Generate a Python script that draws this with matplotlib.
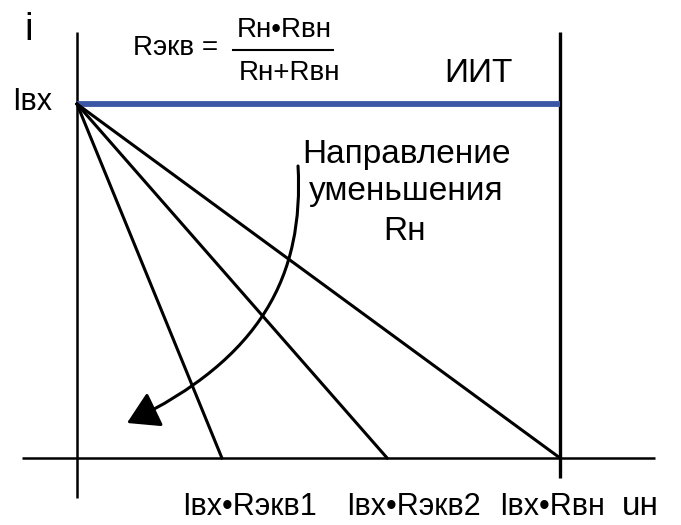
import matplotlib
matplotlib.use("Agg")
import matplotlib.pyplot as plt
from matplotlib.patches import FancyArrowPatch, ArrowStyle
from matplotlib.path import Path

plt.rcParams['font.family'] = ['Liberation Sans', 'DejaVu Sans']

# source current and internal resistance (normalised units)
i_in = 1.0
r_int = 1.0
# equivalent resistances of the two smaller loads
r_eq = [0.30, 0.642]

load_ends = [i_in * r for r in r_eq] + [i_in * r_int]
bottom_labels = ['Iвх•Rэкв1', 'Iвх•Rэкв2', 'Iвх•Rвн']

# "decreasing Rн" arrow: cubic bezier control points
arrow_pts = [(0.4576, 0.8249), (0.4700, 0.5169), (0.3830, 0.2825), (0.1035, 0.0989)]

fig = plt.figure(figsize=(6.81, 5.25), dpi=100)
ax = fig.add_axes([0, 0, 1, 1])
ax.set_xlim(-0.1594, 1.2505)
ax.set_ylim(-0.1893, 1.2938)
ax.axis('off')

# axes
ax.plot([0, 0], [-0.113, 1.2034], color='black', lw=1.8, solid_capstyle='butt')
ax.plot([-0.1139, 1.1967], [0, 0], color='black', lw=1.8, solid_capstyle='butt')
# open-circuit voltage limit
ax.plot([r_int * i_in] * 2, [-0.0565, 1.2034], color='black', lw=2.4, solid_capstyle='butt')

# ideal current source characteristic
ax.plot([0, i_in * r_int], [i_in, i_in], color='#3c56a6', lw=4.2, solid_capstyle='butt')

# load lines
for x_end in load_ends:
    ax.plot([0, x_end], [i_in, 0], color='black', lw=2.2)

path = Path(arrow_pts, [Path.MOVETO, Path.CURVE4, Path.CURVE4, Path.CURVE4])
arrow = FancyArrowPatch(path=path,
                        arrowstyle=ArrowStyle('-|>', head_length=0.97, head_width=0.58),
                        mutation_scale=20, color='black', lw=2.2)
ax.add_patch(arrow)

# labels
ax.text(-0.101, 1.181, 'i', fontsize=28, ha='center', va='baseline')
ax.text(-0.052, 0.983, 'Iвх', fontsize=22, ha='right', va='baseline')

ax.text(0.116, 1.138, 'Rэкв =', fontsize=20, ha='left', va='baseline')
ax.text(0.4286, 1.189, 'Rн•Rвн', fontsize=20, ha='center', va='baseline')
ax.plot([0.323, 0.530], [1.1525, 1.1525], color='black', lw=1.5)
ax.text(0.439, 1.068, 'Rн+Rвн', fontsize=20, ha='center', va='baseline')

ax.text(0.832, 1.062, 'ИИТ', fontsize=24, ha='center', va='baseline')

ax.text(0.683, 0.833, 'Направление', fontsize=24, ha='center', va='baseline')
ax.text(0.681, 0.729, 'уменьшения', fontsize=24, ha='center', va='baseline')
ax.text(0.679, 0.616, 'Rн', fontsize=24, ha='center', va='baseline')

for x_end, lab, xc in zip(load_ends, bottom_labels, [0.358, 0.696, 0.983]):
    ax.text(xc, -0.161, lab, fontsize=22, ha='center', va='baseline')
ax.text(1.166, -0.161, 'uн', fontsize=24, ha='center', va='baseline')

fig.savefig('out.png', dpi=100)
